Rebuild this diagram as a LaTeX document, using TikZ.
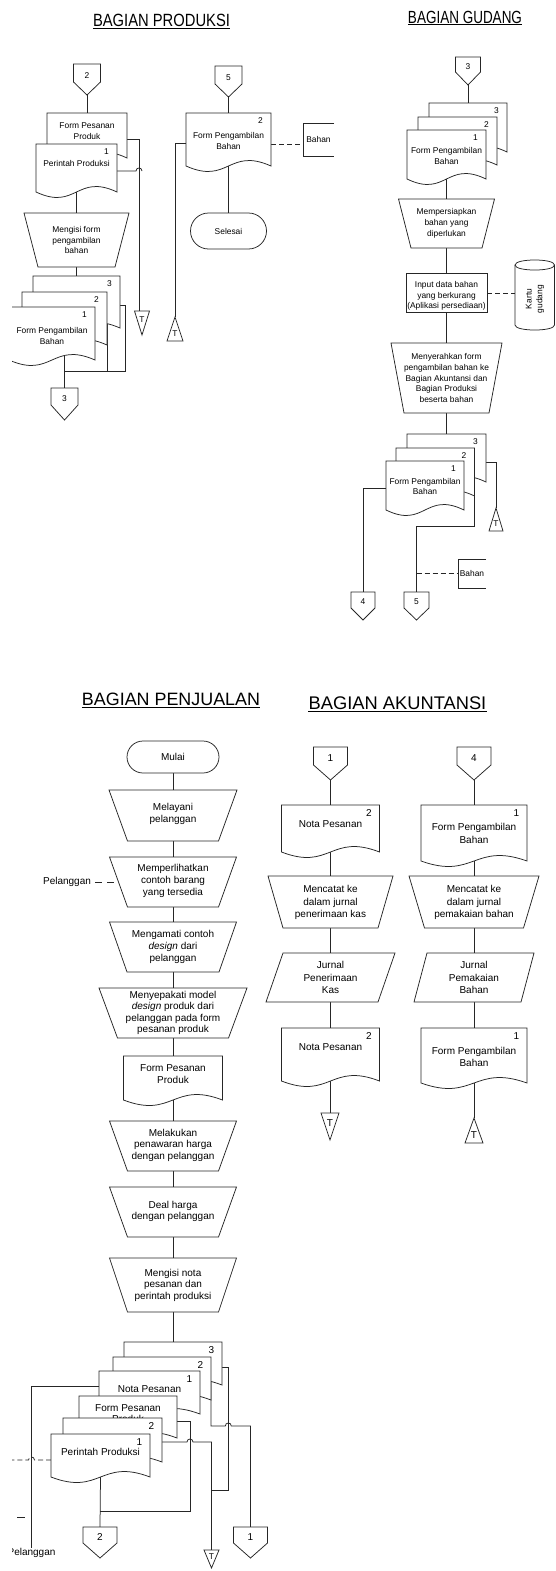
\documentclass[tikz,border=0pt]{standalone}
\usepackage{fontspec}
\usepackage{graphicx}
\setmainfont{Liberation Sans}
\usetikzlibrary{calc,fit,shapes.geometric,shapes.misc}
\pgfdeclarelayer{paper}
\pgfdeclarelayer{bg}
\pgfsetlayers{paper,bg,main}

\tikzset{
  shp/.style={draw=black!85, line width=0.75pt, fill=white},
  ln/.style={draw=black!85, line width=0.75pt},
  dsh/.style={ln, dash pattern=on 5pt off 3pt},
  box/.style={inner sep=0pt, outer sep=0pt},
  tA/.style={font=\fontsize{8.4}{10.8}\selectfont, align=center, inner sep=0pt},
  tB/.style={font=\fontsize{10}{11.6}\selectfont, align=center, inner sep=0pt},
  tC/.style={font=\fontsize{10}{12.4}\selectfont, align=center, inner sep=0pt},
  ttl/.style={inner sep=0pt, anchor=base},
  txt/.style={tA},
  txtT/.style={tA},
}

% document sheet: name, left, top, right, bottom, text, number, text shift
\def\wk{19}
\newcommand{\docpg}[8]{%
  \coordinate (#1-a) at (#2,#3);
  \coordinate (#1-b) at (#4,#5);
  \node[box, fit=(#1-a)(#1-b)] (#1) {};
  \path[shp] (#1.north west) -- (#1.north east) -- (#1.south east)
    .. controls ($(#1.south)+(0,-\wk)$) and ($(#1.south)+(0,\wk)$) .. (#1.south west) -- cycle;
  \node[txt] (#1-t) at ($(#1.center)+(0,#8)$) {#6};
  \node[txt] (#1-n) at ($(#1.north east)+(-10.5,8)$) {#7};
}
% manual operation: name, cx, top, height, top width, bottom width, text, text shift
\newcommand{\trap}[8]{%
  \node[box, minimum width=#5pt, minimum height=#4pt, anchor=north] (#1) at (#2,#3) {};
  \path[shp] (#1.north west) -- (#1.north east)
    -- ($(#1.south east)+({-(#5-#6)/2},0)$) -- ($(#1.south west)+({(#5-#6)/2},0)$) -- cycle;
  \node[txt] (#1-t) at ($(#1.center)+(0,#8)$) {#7};
}
% journal: name, cx, top, height, edge width, slant, text, text shift
\newcommand{\para}[8]{%
  \node[box, minimum width={#5pt+#6pt}, minimum height=#4pt, anchor=north] (#1) at (#2,#3) {};
  \path[shp] ($(#1.north west)+(#6,0)$) -- (#1.north east)
    -- ($(#1.south east)+(-#6,0)$) -- (#1.south west) -- cycle;
  \node[txt] (#1-t) at ($(#1.center)+(0,#8)$) {#7};
}
% off-page connector: name, cx, top, width, height, side length, label
\newcommand{\offpg}[7]{%
  \node[box, minimum width=#4pt, minimum height=#5pt, anchor=north] (#1) at (#2,#3) {};
  \path[shp] (#1.north west) -- (#1.north east) -- ($(#1.north east)+(0,#6)$)
    -- (#1.south) -- ($(#1.north west)+(0,#6)$) -- cycle;
  \node[txt] (#1-t) at ($(#1.north)+(0,{0.62*#6})$) {#7};
}
% archive files
\newcommand{\archdn}[5]{%
  \node[box, minimum width=#4pt, minimum height=#5pt, anchor=north] (#1) at (#2,#3) {};
  \path[shp] (#1.north west) -- (#1.north east) -- (#1.south) -- cycle;
  \node[txtT] (#1-t) at ($(#1.north)+(0,{0.36*#5})$) {T};
}
\newcommand{\archup}[5]{%
  \node[box, minimum width=#4pt, minimum height=#5pt, anchor=north] (#1) at (#2,#3) {};
  \path[shp] (#1.south west) -- (#1.south east) -- (#1.north) -- cycle;
  \node[txtT] (#1-t) at ($(#1.south)+(0,{-0.3*#5})$) {T};
}
% annotation bracket: name, left, top, right, bottom, text
\newcommand{\brk}[6]{%
  \coordinate (#1-a) at (#2,#3);
  \coordinate (#1-b) at (#4,#5);
  \node[box, fit=(#1-a)(#1-b)] (#1) {};
  \draw[ln] (#1.north east) -- (#1.north west) -- (#1.south west) -- (#1.south east);
  \node[txt] (#1-t) at (#1.center) {#6};
}

\begin{document}
\begin{tikzpicture}[x=1pt,y=-1pt]
\useasboundingbox (0,0) rectangle (555,1571);
\begin{pgfonlayer}{paper}
  \fill[white] (0,0) rectangle (555,1571);
\end{pgfonlayer}
\clip (12,0) rectangle (555,1571);

% ---------------- titles ----------------
\node[ttl] (hP) at (161.5,26.7) {\fontsize{17.7}{20}\selectfont\scalebox{0.834}[1]{BAGIAN PRODUKSI}};
\draw[line width=0.9pt] ($(hP.base west)+(0,1.8)$) -- ($(hP.base east)+(0,1.8)$);
\node[ttl] (hG) at (465,23.3) {\fontsize{17.6}{20}\selectfont\scalebox{0.767}[1]{BAGIAN GUDANG}};
\draw[line width=0.9pt] ($(hG.base west)+(0,1.6)$) -- ($(hG.base east)+(0,1.6)$);
\node[ttl] (hJ) at (171,705) {\fontsize{17.9}{20}\selectfont BAGIAN PENJUALAN};
\draw[line width=0.9pt] ($(hJ.base west)+(0,2.3)$) -- ($(hJ.base east)+(0,2.3)$);
\node[ttl] (hA) at (397.5,709) {\fontsize{18.3}{20}\selectfont BAGIAN AKUNTANSI};
\draw[line width=0.9pt] ($(hA.base west)+(0,2)$) -- ($(hA.base east)+(0,2)$);

% ---------------- Bagian Produksi ----------------
\offpg{c2p}{87}{64}{27}{31}{18}{2}
\docpg{fpp}{47}{113}{127}{158}{Form Pesanan\\Produk}{}{-4}
\docpg{ppr}{36}{144}{117}{192}{Perintah Produksi}{1}{-5}
\trap{mfp}{76.5}{213}{54}{105}{77}{Mengisi form\\pengambilan\\bahan}{0}
\docpg{pg3}{33}{276}{120}{328}{}{3}{0}
\docpg{pg2}{22}{292}{107}{345}{}{2}{0}
\docpg{pg1}{9}{307}{95}{360}{Form Pengambilan\\Bahan}{1}{2.5}
\offpg{c3p}{64.5}{388}{27}{32}{17}{3}
\archdn{T1}{142}{311}{15}{24}

\offpg{c5p}{228.5}{66}{27}{31}{18}{5}
\docpg{fpb2}{186}{113}{271}{166}{Form Pengambilan\\Bahan}{2}{1.5}
\node[rounded rectangle, shp, txt, minimum width=76pt, minimum height=36pt] (sel) at (228.5,231) {Selesai};
\brk{bhA}{303}{123}{334}{156}{Bahan}
\archup{T2}{175}{317}{16}{24}

% ---------------- Bagian Gudang ----------------
\offpg{c3g}{468}{57}{25}{28}{15}{3}
\docpg{gp3}{429}{103}{507}{152}{}{3}{0}
\docpg{gp2}{418}{117}{497}{165}{}{2}{0}
\docpg{gp1}{407}{130}{486}{179}{Form Pengambilan\\Bahan}{1}{1.5}
\trap{mpb}{446.5}{199}{49}{96}{71}{Mempersiapkan\\bahan yang\\diperlukan}{0}
\node[shp, minimum width=81pt, minimum height=39pt] (inp) at (446.5,292.5) {};
\node[txt] (inp-t) at (446.5,296) {Input data bahan\\yang berkurang\\(Aplikasi persediaan)};
% storage drum, standing upright
\node[box, minimum width=39.5pt, minimum height=70pt] (kg) at (534.75,295) {};
\path[shp] (515,265) -- (515,325) .. controls (515,331.7) and (554.5,331.7) .. (554.5,325)
  -- (554.5,265) .. controls (554.5,258.3) and (515,258.3) .. (515,265) -- cycle;
\draw[ln] (515,265) .. controls (515,271.7) and (554.5,271.7) .. (554.5,265);
\node[txt, rotate=90] (kg-t) at (535,299) {Kartu\\gudang};
\trap{msb}{446.5}{343}{70}{111}{85}{Menyerahkan form\\pengambilan bahan ke\\Bagian Akuntansi dan\\Bagian Produksi\\beserta bahan}{0}
\docpg{gq3}{407}{434}{486}{482}{}{3}{0}
\docpg{gq2}{396}{448}{474.5}{496}{}{2}{0}
\docpg{gq1}{386}{461}{464}{510}{Form Pengambilan\\Bahan}{1}{1}
\offpg{c4g}{363}{592}{24}{28}{16}{4}
\offpg{c5g}{416.5}{592}{25}{28}{16}{5}
\archup{Tg}{496}{508}{14}{23}
\brk{bhB}{458}{559}{486}{588}{Bahan}

% ---------------- Bagian Penjualan ----------------
\tikzset{txt/.style={tB}, txtT/.style={tA}}
\node[rounded rectangle, shp, txt, minimum width=92pt, minimum height=32pt] (mulai) at (173,757) {Mulai};
\trap{t1}{173}{790}{51}{128}{91}{Melayani\\pelanggan}{-1.5}
\trap{t2}{173}{857}{50}{127}{91}{Memperlihatkan\\contoh barang\\yang tersedia}{-1}
\node[txt, inner xsep=4pt] (pel1) at (67,882) {Pelanggan};
\coordinate (t2l) at (118.5,882);
\trap{t3}{173}{922}{50}{127}{92}{Mengamati contoh\\\textit{design} dari\\pelanggan}{0}
\trap{t4}{173}{988}{50}{148}{111}{Menyepakati model\\\textit{design} produk dari\\pelanggan pada form\\pesanan produk}{0}
\docpg{fpp2}{123.5}{1056}{222.5}{1100}{Form Pesanan\\Produk}{}{-4}
\trap{t5}{173}{1121}{50}{127}{91}{Melakukan\\penawaran harga\\dengan pelanggan}{-1}
\trap{t6}{173}{1187}{50}{127}{91}{Deal harga\\dengan pelanggan}{-0.5}
\trap{t7}{173}{1258}{54}{127}{91}{Mengisi nota\\pesanan dan\\perintah produksi}{0}
\docpg{sA}{124}{1342}{222}{1385}{}{3}{0}
\docpg{sB}{113}{1357}{211}{1400}{}{2}{0}
\docpg{sC}{99}{1371}{200}{1414}{Nota Pesanan}{1}{-3.5}
\docpg{sD}{79}{1396}{177}{1438}{Form Pesanan\\Produk}{}{-3.5}
\docpg{sE}{63}{1418}{162}{1462}{}{2}{0}
\docpg{sF}{51}{1434}{150}{1477}{Perintah Produksi}{1}{-3.5}
\offpg{c2s}{100}{1527}{34}{31}{16}{2}
\offpg{c1s}{250.5}{1527}{34}{31}{16}{1}
\archdn{Ts}{211.5}{1550}{15}{18}
\node[txt] (pel2) at (31.5,1553) {Pelanggan};
\coordinate (dL) at (0,1460);
\coordinate (m1) at (17,1517);
\coordinate (m2) at (25,1517);

% ---------------- Bagian Akuntansi ----------------
\tikzset{txt/.style={tC}, txtT/.style={tB}}
\offpg{c1a}{330.5}{747}{34}{33}{18}{1}
\docpg{an1}{281.5}{805}{379.5}{852}{Nota Pesanan}{2}{-4.5}
\trap{tk1}{330.5}{876}{52}{125}{95}{Mencatat ke\\dalam jurnal\\penerimaan kas}{0.5}
\para{jp1}{330.5}{953}{49}{112}{17}{Jurnal\\Penerimaan\\Kas}{0}
\docpg{an2}{281.5}{1028}{379.5}{1081}{Nota Pesanan}{2}{-7.5}
\archdn{Ta1}{330}{1113}{18}{27}

\offpg{c4a}{474}{747}{34}{33}{18}{4}
\docpg{af1}{421}{805}{527}{861}{Form Pengambilan\\Bahan}{1}{0.5}
\trap{tk2}{474}{876}{52}{130}{99}{Mencatat ke\\dalam jurnal\\pemakaian bahan}{0.5}
\para{jp2}{474}{953}{49}{107}{13}{Jurnal\\Pemakaian\\Bahan}{0}
\docpg{af2}{421}{1028}{527}{1083}{Form Pengambilan\\Bahan}{1}{1.5}
\archup{Ta2}{474}{1118}{18}{25}

% ---------------- flow lines ----------------
\begin{pgfonlayer}{bg}
\clip (12,0) rectangle (555,1571);
% produksi
\draw[ln] (c2p.south) -- (fpp.north);
\coordinate (j1) at (139,139);
\draw[ln] (fpp.east |- j1) -- (j1) -- (j1 |- T1.north);
\draw[ln] (ppr.east |- 0,171) -- (136,171) .. controls (136,167) and (142,167) .. (142,171);
\draw[ln] (ppr.south) -- (mfp.north);
\draw[ln] (mfp.south) -- (pg3.north);
\coordinate (j2) at (125,305);
\coordinate (j3) at (125,371);
\draw[ln] (pg3.east |- j2) -- (j2) -- (j3) -- (c3p.north |- j3);
\draw[ln] (pg2.east) -- (pg2.east |- j3);
\draw[ln] (c3p.north |- pg1.center) -- (c3p.north);
\draw[ln] (c5p.south) -- (fpb2.north);
\draw[ln] (fpb2.south) -- (sel.north);
\draw[dsh] (fpb2.east |- 0,144) -- (bhA.west |- 0,144);
\coordinate (j4) at (175,143);
\draw[ln] (fpb2.west |- j4) -- (j4) -- (j4 |- T2.north);
% gudang
\draw[ln] (c3g.south) -- (gp3.north);
\draw[ln] (gp1.south) -- (mpb.north);
\draw[ln] (mpb.south) -- (inp.north);
\draw[dsh] (inp.east |- 0,293) -- (kg.west |- 0,293);
\draw[ln] (inp.south) -- (msb.north);
\draw[ln] (msb.south) -- (gq3.north);
\draw[ln] (gq1.west |- 0,488) -| (c4g.north);
\draw[ln] (gq2.east) -- (gq2.east |- 0,526) -| (c5g.north);
\draw[ln] (gq3.east |- 0,462) -| (Tg.north);
\draw[dsh] (c5g.north |- bhB.west) -- (bhB.west);
% penjualan
\draw[ln] (mulai.south) -- (t1.north);
\draw[ln] (t1.south) -- (t2.north);
\draw[ln] (t2.south) -- (t3.north);
\draw[ln] (t3.south) -- (t4.north);
\draw[ln] (t4.south) -- (fpp2.north);
\draw[ln] (fpp2.south) -- (t5.north);
\draw[ln] (t5.south) -- (t6.north);
\draw[ln] (t6.south) -- (t7.north);
\draw[ln] (t7.south) -- (sA.north);
\draw[ln, dash pattern=on 7pt off 5pt] (pel1.east) -- (t2l);
\coordinate (kA) at (228.3,1367);
\coordinate (kB) at (228.3,1490);
\draw[ln] (sA.east |- kA) -- (kA) -- (kB) -- (Ts.north |- kB);
\draw[ln] (sB.east) -- (sB.east |- 0,1426) -- (225.3,1426)
  .. controls (225.3,1422) and (231.3,1422) .. (231.3,1426) -- (c1s.north |- 0,1426) -- (c1s.north);
\draw[ln] (sE.east |- 0,1442) -- (187,1442)
  .. controls (187,1438) and (193,1438) .. (193,1442) -- (Ts.north |- 0,1442) -- (Ts.north);
\draw[ln] (sD.east |- 0,1421) -- (190,1421) -- (190,1511) -- (c2s.north |- 0,1511);
\draw[ln] (sF.south) -- (c2s.north);
\draw[ln] (sC.west |- 0,1386) -- (pel2.north |- 0,1386) -- (pel2.north);
\draw[dsh] (sF.west |- 0,1460) -- (34.5,1460)
  .. controls (34.5,1456) and (28.5,1456) .. (28.5,1460) -- (dL);
\draw[ln] (m1) -- (m2);
% akuntansi
\draw[ln] (c1a.south) -- (an1.north);
\draw[ln] (an1.south) -- (tk1.north);
\draw[ln] (tk1.south) -- (jp1.north);
\draw[ln] (jp1.south) -- (an2.north);
\draw[ln] (an2.south) -- (an2.south |- Ta1.north);
\draw[ln] (c4a.south) -- (af1.north);
\draw[ln] (af1.south) -- (tk2.north);
\draw[ln] (tk2.south) -- (jp2.north);
\draw[ln] (jp2.south) -- (af2.north);
\draw[ln] (af2.south) -- (Ta2.north);
\end{pgfonlayer}
\end{tikzpicture}
\end{document}
